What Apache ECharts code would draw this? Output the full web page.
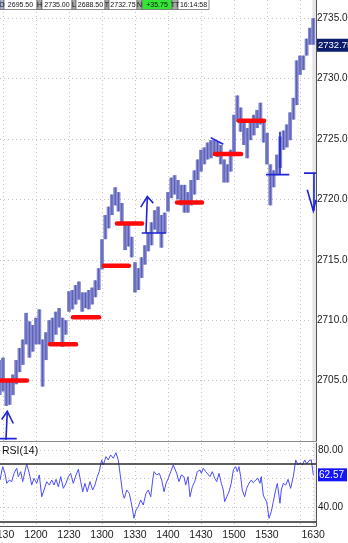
<!DOCTYPE html>
<html><head><meta charset="utf-8">
<script src="https://cdn.jsdelivr.net/npm/echarts@6/dist/echarts.min.js"></script>
<style>html,body{margin:0;padding:0;background:#fff}#c{width:348px;height:543px}</style>
</head><body><div id="c"></div><script>
// ---- data (minutes after 11:30, prices) ----
const barTime = [-3,0,3,6,9,12,15,18,21,24,27,30,33,36,39,42,45,48,51,54,57,60,63,66,69,72,75,78,81,84,87,90,93,96,99,102,105,108,111,114,117,120,123,126,129,132,135,138,141,144,147,150,153,156,159,162,165,168,171,174,177,180,183,186,189,192,195,198,201,204,207,210,213,216,219,222,225,228,231,234,237,240,243,246,249,252,255,258,261,264,267,270,273,276,279,282];
const barLow = [2703.8,2704.1,2702.9,2703.0,2703.8,2704.7,2705.7,2706.3,2708.0,2706.9,2707.4,2708.0,2708.0,2704.5,2706.7,2708.0,2708.2,2708.8,2709.4,2707.8,2708.8,2710.7,2710.9,2711.3,2711.7,2710.7,2711.0,2710.9,2711.3,2711.9,2712.5,2714.2,2716.7,2717.6,2718.7,2719.5,2719.0,2718.1,2715.8,2716.1,2715.2,2712.3,2712.5,2713.5,2714.6,2715.7,2716.2,2717.5,2717.2,2716.0,2717.2,2719.0,2720.1,2720.4,2720.0,2719.5,2718.9,2718.9,2719.5,2720.4,2721.6,2722.3,2722.9,2723.3,2723.4,2723.6,2723.5,2722.9,2721.4,2721.4,2722.3,2723.7,2726.4,2725.6,2724.5,2723.4,2724.9,2725.3,2725.9,2726.2,2724.7,2722.9,2719.5,2721.0,2722.0,2722.6,2724.1,2724.3,2724.9,2726.6,2727.8,2730.3,2730.7,2731.9,2732.8,2732.8];
const barHigh = [2706.7,2706.9,2705.1,2705.1,2705.5,2706.7,2707.7,2708.4,2710.6,2709.9,2709.6,2710.2,2710.9,2708.4,2709.0,2710.0,2710.2,2710.7,2711.0,2710.2,2710.0,2712.4,2712.5,2712.9,2713.2,2712.3,2712.3,2712.5,2712.7,2713.3,2714.3,2716.7,2718.7,2719.4,2720.4,2721.0,2720.6,2719.7,2717.9,2717.9,2716.9,2714.8,2714.3,2715.2,2716.2,2717.3,2718.1,2719.1,2719.4,2718.7,2718.9,2720.6,2721.8,2722.0,2721.6,2721.2,2721.2,2720.6,2721.6,2722.4,2723.3,2724.1,2724.3,2724.7,2724.9,2724.9,2724.8,2724.5,2723.3,2722.9,2724.1,2727.0,2728.6,2727.6,2726.6,2725.9,2726.6,2727.0,2727.4,2728.0,2726.6,2725.5,2722.9,2722.4,2723.7,2725.2,2725.7,2726.2,2727.2,2728.4,2731.5,2731.9,2731.9,2733.3,2734.2,2735.0];
const lastPrice = 2732.75;
const priceTicks = [2705, 2710, 2715, 2720, 2725, 2730, 2735];

const rsiTime = [-2.7,-0.3,1.8,3.4,5.7,7.9,10,12.5,13.9,16.1,17.9,21.5,23.9,26.1,28.2,30.6,33,35.2,37.3,39.7,42.1,44.3,46.4,48.2,50.3,52.5,54.8,57.3,59.4,61.5,63.9,66.4,68.5,70.6,72.5,74.5,76.6,79.1,81.5,83.6,85.7,87.5,89.7,91.2,93.6,95.7,97.9,100.3,102.7,104.8,106.4,108.8,110.3,112.5,114.8,117,119.1,120.9,123,125.2,127.5,130,132.1,134.3,136.1,137.3,139.7,142.1,144.3,146.4,148.2,150.3,152.5,154.8,157.9,160,162.1,164.5,166.1,168.2,170,172.1,174.3,176.6,179.1,180.3,182.1,184.3,185.7,188.2,190.3,192.5,194.3,196.4,198.5,200.3,201.5,203.4,205.5,207.5,209.4,211.5,213,214.5,216.1,217.5,219.7,221.5,223.6,225.7,227.5,229.7,231.8,233.6,234.8,236.6,237.9,239.7,241.8,243.9,245.7,247.9,249.4,251.8,253,254.8,257,259.1,261.5,263.9,266.1,268.2,270,272.1,274.3,276.1,278.2,280.3,282.1];
const rsiValue = [58.9,68.3,63.6,56.6,58.9,57.8,63.6,67.2,61.3,64.8,57.8,70.2,63.6,55.4,60.1,56.6,62.5,47.2,51.9,57.8,55.4,58.9,55.4,59.4,54.2,61.3,53.1,56.6,61.3,63.6,56.6,62.5,66.5,57.8,50.7,56.6,50.7,57.8,51.9,55.4,61.3,64.8,73.0,69.5,75.3,73.0,76.5,74.2,78.1,73.0,63.6,49.6,46.1,51.9,49.6,41.4,32.1,37.9,40.2,44.9,41.4,49.6,51.9,47.2,58.9,64.8,62.5,63.6,58.9,50.7,56.6,60.1,64.8,69.5,63.6,57.8,62.5,61.3,55.4,61.3,47.2,54.2,57.8,64.8,66.0,63.6,67.2,64.8,66.0,61.3,64.8,60.1,57.8,63.6,56.6,51.9,43.7,47.2,50.7,56.6,66.0,68.3,64.8,68.3,61.3,51.9,47.2,53.1,56.6,58.9,57.1,58.9,60.1,56.6,61.3,48.4,46.1,43.7,32.1,36.7,43.7,51.9,56.6,42.6,51.9,56.6,55.4,59.4,53.1,61.3,73.0,69.5,71.1,69.5,73.0,70.2,72.5,73.0,62.57];
const lastRsi = 62.57;
const rsiTicks = [40, 60, 80];
const rsiLevels = [70, 30];

// red level segments
const redStart = [-1.8, 42.7, 63.6, 91.8, 103.6, 158.2, 192.7, 214.5];
const redEnd   = [21.8, 66.4, 87.3, 114.5, 126.4, 180.9, 216.4, 237.3];
const redLevel = [2705.0, 2708.0, 2710.25, 2714.5, 2718.0, 2719.75, 2723.75, 2726.5];

// blue hand-drawn annotations: polylines of [minute, price]
const drawings = [
  [[-2.7,2700.2],[12.5,2700.2]],
  [[2.7,2700.1],[3.9,2702.46]],
  [[-1.2,2701.78],[3.9,2702.46],[9.4,2701.45]],
  [[130,2717.21],[131.2,2720.23]],
  [[125.2,2719.36],[131.2,2720.23],[136.6,2719.69]],
  [[126.1,2717.21],[148.2,2717.21]],
  [[188.8,2725.11],[200.3,2724.56]],
  [[239.1,2722.05],[260.3,2722.05]],
  [[251.8,2722.05],[251.8,2725.6]],
  [[273.6,2722.17],[284.5,2722.17]],
  [[282.7,2722.17],[282.7,2719.05]],
  [[276.6,2720.79],[282.1,2719.05],[284.5,2719.96]]
];

const tickMinutes = [0,30,60,90,120,150,180,210,240,270,282];
const labelMinutes = [0,30,60,90,120,150,180,210,240,282];
const timeLabels = ['1130','1200','1230','1300','1330','1400','1430','1500','1530','1630'];
const sessionEnd = [281.2, 284.55];

const header = ['O','2695.50','H','2735.00','L','2688.50','T','2732.75','N','+35.75','TT','16:14:58'];
const headerEdges = [0,4,37,42,72,76,105,109,137,142,172,178,209];

// ---- chart ----
const FONT = "'Liberation Sans',sans-serif";
const xMin = -2.727, xMax = 284.55;
const chart = echarts.init(document.getElementById('c'), null, {renderer:'canvas'});

const headerGraphics = [];
for (let i = 0; i < header.length; i++) {
  const x0 = headerEdges[i], x1 = headerEdges[i+1];
  const isLabel = i % 2 === 0;
  let fill = isLabel ? '#a9a9a9' : '#ffffff';
  if (i === 0) fill = '#a6b8d8';
  if (i === 9) fill = '#33e633';
  headerGraphics.push({type:'rect', shape:{x:x0, y:-1, width:x1-x0, height:10.5},
    style:{fill:fill, stroke:'#6e6e6e', lineWidth:0.8}, z:100});
  headerGraphics.push({type:'text', x:(x0+x1)/2, y:4.8,
    style:{text:header[i], fill:'#111', font:"7px 'Liberation Sans', sans-serif", align:'center', verticalAlign:'middle'}, z:101});
}

const lineData = drawings.map(c => ({coords: c}));
const redData = redStart.map((s, i) => ({coords: [[s, redLevel[i]], [redEnd[i], redLevel[i]]]}));

const axisFont = {fontFamily: FONT, fontSize: 10, color: '#1a1a1a'};
const gridLine = {show:true, lineStyle:{color:'#c4c4c4', type:[1,3], width:1}};
const boxStyle = (bg, size) => ({backgroundColor:bg, color:'#fff', fontFamily:FONT, fontSize:size, padding:[2,3,1,1]});

chart.setOption({
  animation: false,
  backgroundColor: '#fff',
  grid: [
    {left: 0, top: 0, width: 316, height: 441, outerBoundsMode: 'none', containLabel: false},
    {left: 0, top: 443, width: 316, height: 83, outerBoundsMode: 'none', containLabel: false}
  ],
  xAxis: [
    {type:'value', gridIndex:0, min:xMin, max:xMax,
     axisLine:{show:true, onZero:false, lineStyle:{color:'#8a8a8a'}}, axisTick:{show:false, customValues: tickMinutes},
     axisLabel:{show:false, customValues: labelMinutes}, splitLine:gridLine},
    {type:'value', gridIndex:1, min:xMin, max:xMax,
     axisLine:{show:true, onZero:false, lineStyle:{color:'#555'}}, axisTick:{show:false, customValues: tickMinutes},
     axisLabel:Object.assign({show:true, margin:4, customValues: labelMinutes,
       alignMinLabel:'center', alignMaxLabel:'center', hideOverlap:false,
       formatter: v => { const k = labelMinutes.indexOf(Math.round(v)); return k >= 0 ? timeLabels[k] : ''; }}, axisFont, {fontSize: 10.5}),
     splitLine:gridLine}
  ],
  yAxis: [
    {type:'value', gridIndex:0, position:'right', min:2700, max:2736.5,
     axisLine:{show:true, onZero:false, lineStyle:{color:'#555', width:1}},
     axisTick:{show:false, customValues: priceTicks},
     axisLabel:Object.assign({margin:1, hideOverlap:false, customValues: priceTicks.concat([lastPrice]),
       formatter: v => Math.abs(v - lastPrice) < 1e-6 ? '{cur|' + v.toFixed(2) + '}' : v.toFixed(2),
       rich:{cur: boxStyle('#0d1c6b', 9.5)}}, axisFont),
     splitLine:gridLine},
    {type:'value', gridIndex:1, position:'right', min:26.67, max:84.9,
     axisLine:{show:true, onZero:false, lineStyle:{color:'#555', width:1}},
     axisTick:{show:false, customValues: rsiTicks},
     axisLabel:Object.assign({margin:2, hideOverlap:false, customValues: rsiTicks.concat([lastRsi]),
       formatter: v => Math.abs(v - lastRsi) < 1e-6 ? '{cur|' + v.toFixed(2) + '}' : v.toFixed(2),
       rich:{cur: boxStyle('#1414ff', 10)}}, axisFont),
     splitLine:gridLine}
  ],
  graphic: headerGraphics.concat([
    {type:'text', x:2, y:446, style:{text:'RSI(14)', fill:'#111', font:"10.5px 'Liberation Sans', sans-serif"}, z:50}
  ]),
  series: [
    {type:'line', xAxisIndex:0, yAxisIndex:0, data:[], z:0, silent:true,
     markArea:{silent:true, itemStyle:{color:'#e6e6e6'}, data:[[{xAxis:sessionEnd[0]},{xAxis:sessionEnd[1]}]]}},
    {type:'line', xAxisIndex:1, yAxisIndex:1, data:[], z:0, silent:true,
     markArea:{silent:true, itemStyle:{color:'#ececec'}, data:[[{xAxis:sessionEnd[0]+1.5},{xAxis:sessionEnd[1]}]]}},
    {type:'custom', xAxisIndex:0, yAxisIndex:0, clip:false, z:2,
     data: barTime.map((t, i) => [t, barLow[i], barHigh[i]]),
     encode:{x:0, y:[1,2]},
     renderItem: (params, api) => {
       const t = api.value(0), lo = api.value(1), hi = api.value(2);
       const p1 = api.coord([t, hi]), p2 = api.coord([t, lo]);
       const w = api.size([3, 0])[0];
       const xl = Math.max(p1[0]-w/2-0.3, 0);
       return {type:'group', children:[
         {type:'rect', shape:{x:xl, y:p1[1], width:p1[0]+w/2+0.3-xl, height:p2[1]-p1[1]},
          style:{fill:'#8589d0'}},
         {type:'line', shape:{x1:p1[0], y1:p1[1], x2:p2[0], y2:p2[1]},
          style:{stroke:'#5054aa', lineWidth:0.9}}
       ]};
     }
    },
    {type:'lines', coordinateSystem:'cartesian2d', xAxisIndex:0, yAxisIndex:0, polyline:true,
     data: redData, lineStyle:{color:'#ff0a0a', width:4.5, opacity:1, cap:'round'}, z:5},
    {type:'lines', coordinateSystem:'cartesian2d', xAxisIndex:0, yAxisIndex:0, polyline:true,
     data: lineData, lineStyle:{color:'#1f24d6', width:1.6, opacity:1}, z:6},
    {type:'line', xAxisIndex:1, yAxisIndex:1, showSymbol:false, symbol:'none', clip:false,
     data: rsiTime.map((t, i) => [t, rsiValue[i]]),
     lineStyle:{color:'#4d4dff', width:1}, z:4,
     markLine:{silent:true, symbol:'none', label:{show:false},
       data: rsiLevels.map(v => ({yAxis:v})),
       lineStyle:{color:'#2a2a2a', width:1.6, type:'solid'}}
    }
  ]
});
</script></body></html>
